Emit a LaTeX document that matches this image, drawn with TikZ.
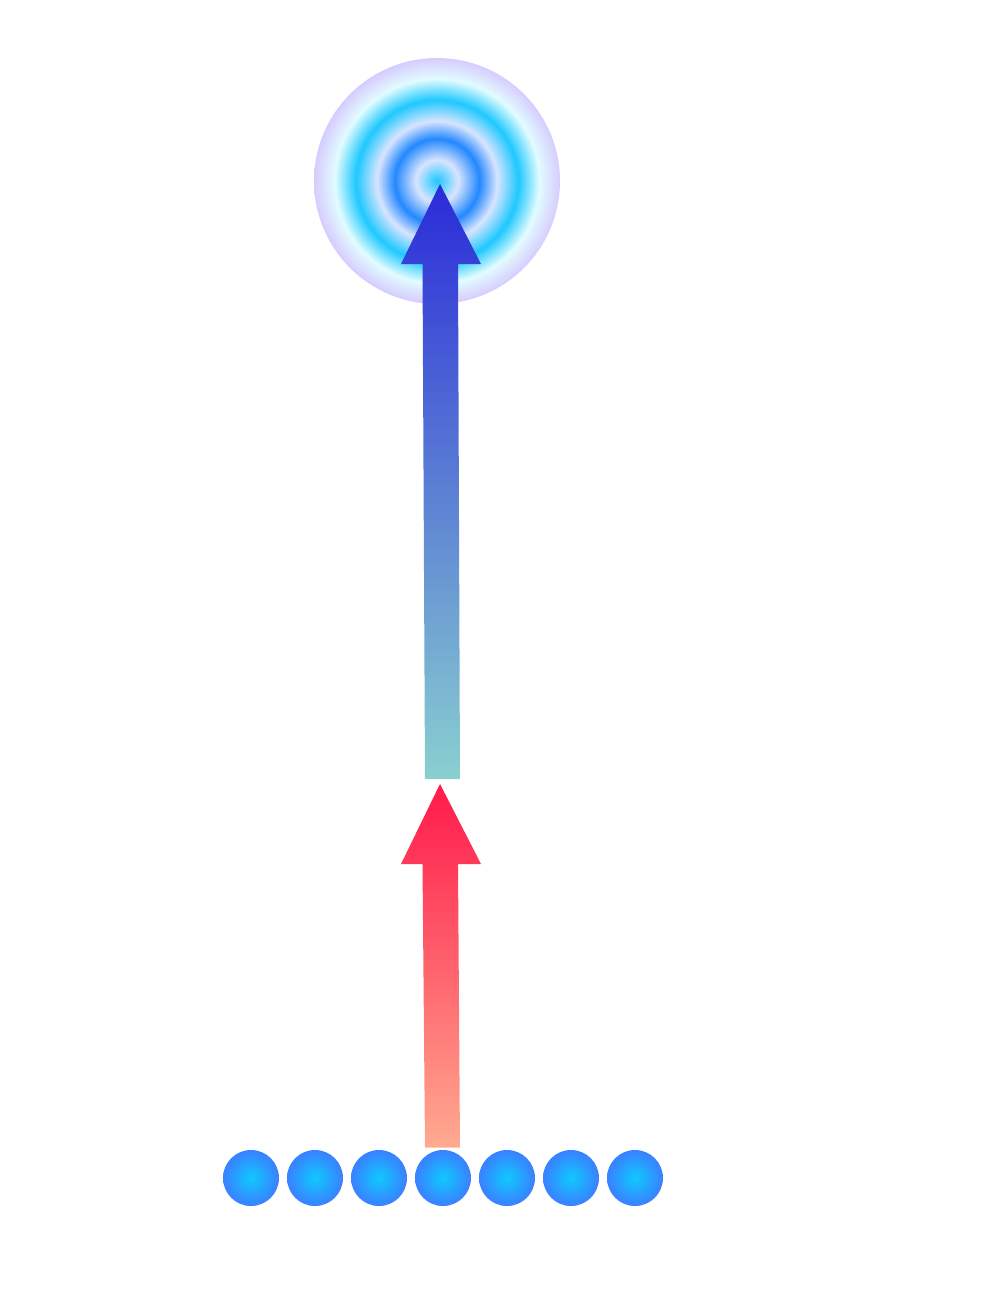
\documentclass[tikz,border=0pt]{standalone}
\usepackage{xcolor}
\usepackage{tikz}
\usetikzlibrary{calc}

\definecolor{ringcyan}{HTML}{1EC8FF}
\definecolor{ringpale}{HTML}{D8E4FF}
\definecolor{ringblue}{HTML}{2288FF}
\definecolor{ringice}{HTML}{E2FCFF}
\definecolor{ringlav}{HTML}{D6CCFF}
\definecolor{dotin}{HTML}{10C8FF}
\definecolor{dotout}{HTML}{3A80FF}
\definecolor{upblue}{HTML}{2A2AD8}
\definecolor{uptail}{HTML}{8AD0D0}
\definecolor{lowred}{HTML}{FF1A4A}
\definecolor{lowtail}{HTML}{FFAA90}

\pgfdeclareradialshading{ripple}{\pgfpoint{0bp}{0bp}}{%
  color(0bp)=(ringcyan); color(4.3bp)=(ringpale); color(8.6bp)=(ringblue);
  color(12.2bp)=(ringpale); color(16.5bp)=(ringcyan); color(20.8bp)=(ringice);
  color(25bp)=(ringlav); color(50bp)=(ringlav)}

% thick arrow: tail, tip, shading
\newcommand{\fatarrow}[3]{%
  \shade[#3] ($(#1)+(-17.5,0)$) -- ($(#2)+(-17.5,80)$) -- ($(#2)+(-39,80)$) -- (#2)
    -- ($(#2)+(41,80)$) -- ($(#2)+(18,80)$) -- ($(#1)+(17.5,0)$) -- cycle;}

\begin{document}
\begin{tikzpicture}[
    x=0.02cm, y=-0.02cm,
    target/.style={circle, minimum size=4.92cm, inner sep=0pt, shading=ripple},
    dot/.style={circle, minimum size=1.12cm, inner sep=0pt, inner color=dotin, outer color=dotout},
    uparrow/.style={top color=upblue, bottom color=uptail},
    lowarrow/.style={top color=lowred, bottom color=lowtail},
]
\useasboundingbox (0,0) rectangle (987,1292);

\node[target] (target) at (437,181) {};
\foreach \i in {1,...,7}
  \node[dot] (d\i) at (187+64*\i,1178) {};

\coordinate (lowtip) at (440,784);
\coordinate (uptailpt) at ($(lowtip)+(2.5,-5)$);
\coordinate (uptip) at ($(target.center)+(3,3)$);
\coordinate (lowtailpt) at ($(d4.north)+(-0.5,-2)$);

\fatarrow{lowtailpt}{lowtip}{lowarrow}
\fatarrow{uptailpt}{uptip}{uparrow}
\end{tikzpicture}
\end{document}
